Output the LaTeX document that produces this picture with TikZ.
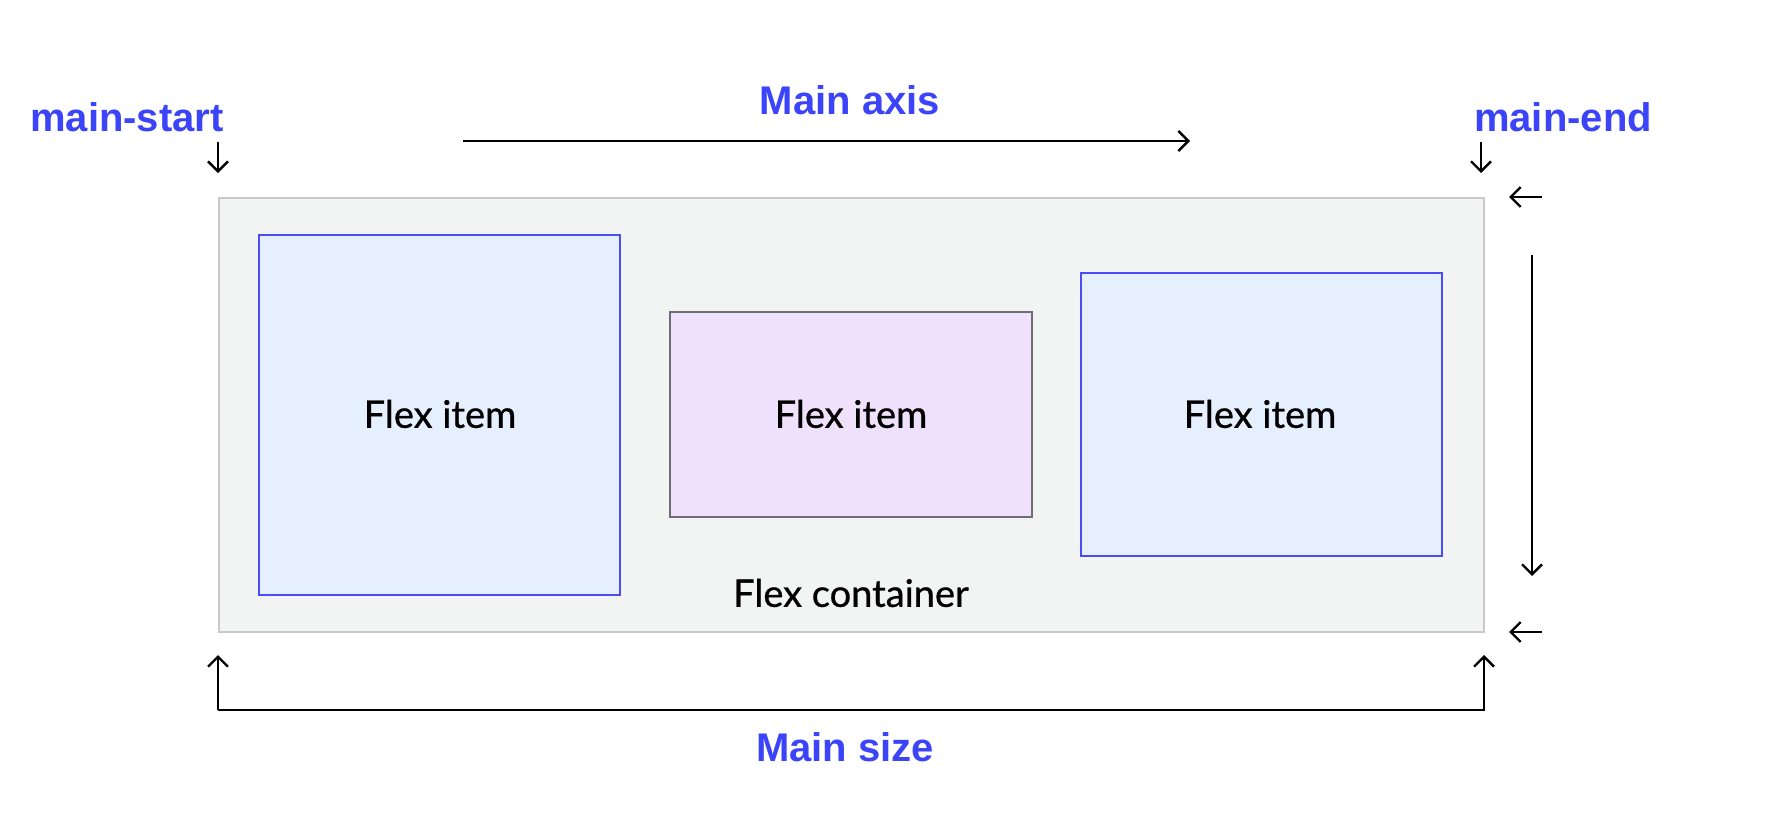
\documentclass[tikz,border=0pt]{standalone}
\usepackage{fontspec}
\setmainfont{Lato}
\newfontfamily\itemfont[FakeBold=0.7]{Lato}
\newfontfamily\lblfont{Liberation Sans}
\usetikzlibrary{arrows.meta}
\definecolor{lblblue}{HTML}{3B44F8}
\definecolor{itemblue}{HTML}{4A4DF5}
\definecolor{itemfillb}{HTML}{E6EFFD}
\definecolor{itemfillp}{HTML}{EFE0FB}
\definecolor{itemgray}{HTML}{6E6E72}
\definecolor{contfill}{HTML}{F2F3F3}
\definecolor{contline}{HTML}{C9C9C9}
\tikzset{
  lbl/.style={font=\lblfont\bfseries\fontsize{20}{24}\selectfont, text=lblblue, inner sep=0pt},
  itemtxt/.style={font=\itemfont\fontsize{19}{23}\selectfont, text=black},
  boxb/.style={draw=itemblue, fill=itemfillb, line width=1pt, inner sep=0pt},
  boxp/.style={draw=itemgray, fill=itemfillp, line width=1pt, inner sep=0pt},
  contbox/.style={draw=contline, fill=contfill, line width=1.2pt, inner sep=0pt},
  arr/.style={line width=1.2pt, -{Straight Barb[length=5pt,width=10pt,line width=1.2pt]}},
}
\begin{document}
\begin{tikzpicture}[x=0.5pt,y=-0.5pt]
\useasboundingbox (0,0) rectangle (1772,814);
% container
\node[contbox, minimum width=632.5pt, minimum height=217pt, anchor=north west] (cont) at (218,197) {};
% items
\node[boxb, minimum width=180.5pt, minimum height=180pt, anchor=north west] (it1) at (258,234) {};
\node[boxp, minimum width=181pt, minimum height=102.5pt, anchor=north west] (it2) at (669,311) {};
\node[boxb, minimum width=180.5pt, minimum height=141.5pt, anchor=north west] (it3) at (1080,272) {};
\node[itemtxt] (t1) at (440,414) {Flex item};
\node[itemtxt] (t2) at (851,414) {Flex item};
\node[itemtxt] (t3) at (1260,414) {Flex item};
\node[itemtxt] (tc) at (851,593) {Flex container};
% labels
\node[lbl] (ms) at (127,117) {main-start};
\node[lbl] (me) at (1563,117) {main-end};
\node[lbl] (ma) at (850,100) {Main axis};
\node[lbl] (msz) at (845,747) {Main size};
% main axis arrow
\coordinate (a1) at (463,141);
\coordinate (a2) at (1190,141);
\draw[arr] (a1) -- (a2);
% small down arrows
\coordinate (s1) at (218,142);
\coordinate (s2) at (218,173);
\draw[arr] (s1) -- (s2);
\coordinate (e1) at (1481,142);
\coordinate (e2) at (1481,173);
\draw[arr] (e1) -- (e2);
% left arrows
\coordinate (l1) at (1542,197);
\coordinate (l2) at (1509,197);
\draw[arr] (l1) -- (l2);
\coordinate (l3) at (1542,632);
\coordinate (l4) at (1509,632);
\draw[arr] (l3) -- (l4);
% cross axis arrow
\coordinate (v1) at (1532,255);
\coordinate (v2) at (1532,576);
\draw[arr] (v1) -- (v2);
% main size bracket
\coordinate (b1) at (218,710);
\coordinate (b2) at (1484,710);
\coordinate (bl) at (218,655);
\coordinate (br) at (1484,655);
\draw[arr] (b1) -- (b2) -- (br);
\draw[arr] (b1) -- (bl);
\end{tikzpicture}
\end{document}
